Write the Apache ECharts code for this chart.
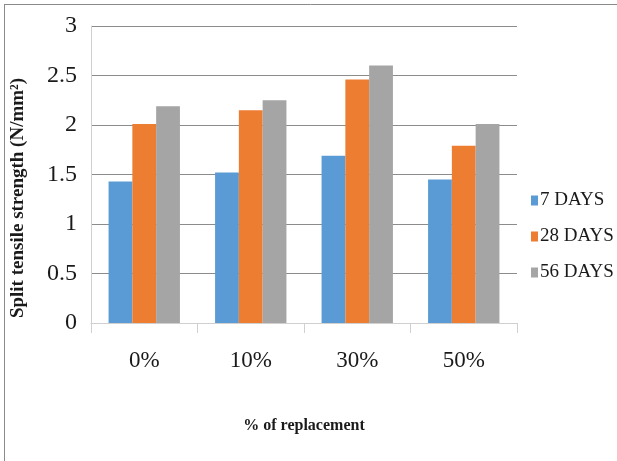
<!DOCTYPE html>
<html>
<head>
<meta charset="utf-8">
<script src="https://cdn.jsdelivr.net/npm/echarts@6/dist/echarts.min.js"></script>
<style>
  html, body { margin: 0; padding: 0; background: #fff; }
  #chart { width: 617px; height: 461px; }
</style>
</head>
<body>
<div id="chart"></div>
<script>
// Split tensile strength by replacement level and curing age
const categories = ['0%', '10%', '30%', '50%'];
const days7 = [1.43, 1.52, 1.69, 1.45];
const days28 = [2.01, 2.15, 2.46, 1.79];
const days56 = [2.19, 2.25, 2.60, 2.01];
const yTicks = [0, 0.5, 1, 1.5, 2, 2.5, 3];
const yTitle = 'Split tensile strength (N/mm\u00B2)';

const serif = '"Liberation Serif", "Times New Roman", serif';

const chart = echarts.init(document.getElementById('chart'), null, { renderer: 'canvas' });

chart.setOption({
  backgroundColor: '#ffffff',
  animation: false,
  color: ['#5b9bd5', '#ed7d31', '#a5a5a5'],
  grid: { left: 91, right: 100, top: 26, bottom: 138 },
  graphic: [
    { type: 'line', shape: { x1: 4, y1: 4.5, x2: 617, y2: 4.5 }, style: { stroke: '#8a8a8a', lineWidth: 1 } },
    { type: 'line', shape: { x1: 4.5, y1: 4, x2: 4.5, y2: 461 }, style: { stroke: '#8a8a8a', lineWidth: 1 } },
    {
      type: 'text',
      x: 18,
      y: 198,
      rotation: Math.PI / 2,
      style: {
        text: yTitle,
        font: 'bold 19px ' + serif,
        fill: '#1a1a1a',
        align: 'center',
        verticalAlign: 'middle'
      }
    }
  ],
  legend: {
    orient: 'vertical',
    left: 526,
    top: 186,
    itemWidth: 7,
    itemHeight: 10,
    itemGap: 17,
    icon: 'rect',
    textStyle: { fontFamily: serif, fontSize: 19, color: '#1a1a1a', padding: [0, 0, 0, -3] },
    data: ['7 DAYS', '28 DAYS', '56 DAYS']
  },
  xAxis: {
    type: 'category',
    data: categories,
    name: '% of replacement',
    nameLocation: 'middle',
    nameGap: 95,
    nameTextStyle: { fontFamily: serif, fontSize: 16, fontWeight: 'bold', color: '#1a1a1a' },
    axisLine: { show: true, lineStyle: { color: '#d0d0d0' } },
    axisTick: { show: true, length: 10, lineStyle: { color: '#d0d0d0' } },
    axisLabel: { margin: 26, fontFamily: serif, fontSize: 23, color: '#1a1a1a' }
  },
  yAxis: {
    type: 'value',
    min: 0,
    max: 3,
    interval: 0.5,
    axisLine: { show: true, lineStyle: { color: '#d0d0d0' } },
    axisTick: { show: false },
    axisLabel: {
      margin: 14,
      fontFamily: serif,
      fontSize: 24,
      color: '#1a1a1a',
      formatter: function (v) { return yTicks.indexOf(v) >= 0 ? String(v) : ''; }
    },
    splitLine: { show: true, lineStyle: { color: '#8c8c8c' } }
  },
  series: [
    { name: '7 DAYS', type: 'bar', data: days7, barGap: '0%', barCategoryGap: '33%' },
    { name: '28 DAYS', type: 'bar', data: days28, barGap: '0%', barCategoryGap: '33%' },
    { name: '56 DAYS', type: 'bar', data: days56, barGap: '0%', barCategoryGap: '33%' }
  ]
});
</script>
</body>
</html>
